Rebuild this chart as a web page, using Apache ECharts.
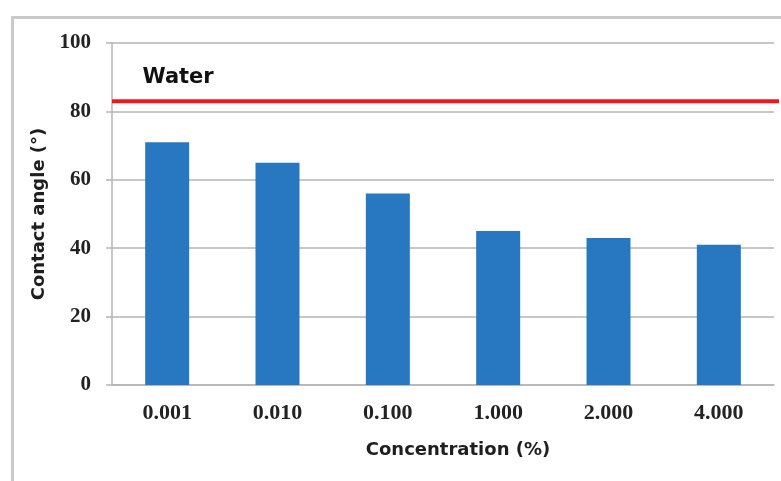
<!DOCTYPE html>
<html>
<head>
<meta charset="utf-8">
<script src="https://cdn.jsdelivr.net/npm/echarts@6/dist/echarts.min.js"></script>
<style>
  html, body { margin: 0; padding: 0; background: #fff; }
  #chart { width: 781px; height: 481px; }
</style>
</head>
<body>
<div id="chart"></div>
<script>
// Concentration levels (x categories) and measured contact angles
const concentrations = ['0.001', '0.010', '0.100', '1.000', '2.000', '4.000'];
const contactAngles = [71, 65, 56, 45, 43, 41];
// Reference contact angle of pure water
const waterAngle = 83;
const waterLabel = 'Water';
// Y axis range and tick step
const yMin = 0, yMax = 100, yStep = 20;

const gridColor = '#b5b5b5';
const serif = '"Liberation Serif", "DejaVu Serif", serif';
const sans = '"DejaVu Sans", sans-serif';

const chart = echarts.init(document.getElementById('chart'), null, { renderer: 'canvas' });

chart.setOption({
  animation: false,
  backgroundColor: '#fff',
  graphic: [{
    type: 'rect',
    left: 10, top: 15,
    shape: { width: 820, height: 520 },
    style: { fill: 'none', stroke: '#c9c9c9', lineWidth: 3 },
    silent: true, z: -1
  }],
  grid: [
    { left: 112, right: 7, top: 43, bottom: 96 },
    { left: 112, right: 2, top: 43, bottom: 96 }
  ],
  xAxis: [{
    type: 'category',
    gridIndex: 0,
    data: concentrations,
    axisLine: { lineStyle: { color: gridColor, width: 1.5 } },
    axisTick: { show: false },
    axisLabel: {
      margin: 17,
      fontFamily: serif, fontSize: 22, fontWeight: 'bold', color: '#222'
    },
    name: 'Concentration (%)',
    nameLocation: 'middle',
    nameGap: 56,
    nameTextStyle: {
      fontFamily: sans, fontSize: 18, fontWeight: 'bold', color: '#1e1e1e',
      padding: [0, 0, 0, 30]
    }
  }, {
    type: 'value', gridIndex: 1, min: 0, max: 1, show: false
  }],
  yAxis: [{
    type: 'value',
    gridIndex: 0,
    min: yMin, max: yMax, interval: yStep,
    axisLine: { show: true, lineStyle: { color: gridColor, width: 1.5 } },
    axisTick: { show: true, inside: false, length: 6, lineStyle: { color: gridColor, width: 1.5 } },
    splitLine: { show: true, lineStyle: { color: gridColor, width: 1.5 } },
    axisLabel: {
      margin: 21,
      fontFamily: serif, fontSize: 21, fontWeight: 'bold', color: '#222'
    },
    name: 'Contact angle (°)',
    nameLocation: 'middle',
    nameGap: 62,
    nameTextStyle: {
      fontFamily: sans, fontSize: 18, fontWeight: 'bold', color: '#1e1e1e'
    }
  }, {
    type: 'value', gridIndex: 1, min: yMin, max: yMax, show: false
  }],
  series: [{
    type: 'bar',
    xAxisIndex: 0, yAxisIndex: 0,
    data: contactAngles,
    barWidth: 44,
    itemStyle: { color: '#2878c1' },
    silent: true
  }, {
    type: 'line',
    xAxisIndex: 1, yAxisIndex: 1,
    data: [
      {
        value: [0, waterAngle],
        label: {
          show: true,
          position: 'right',
          offset: [25, -24],
          formatter: waterLabel,
          fontFamily: sans, fontSize: 21, fontWeight: 'bold', color: '#111'
        }
      },
      [1, waterAngle]
    ],
    symbol: 'circle',
    symbolSize: 1,
    showSymbol: true,
    itemStyle: { color: 'rgba(0,0,0,0)' },
    lineStyle: { color: '#f5141e', width: 4 },
    silent: true,
    z: 5
  }]
});
</script>
</body>
</html>
